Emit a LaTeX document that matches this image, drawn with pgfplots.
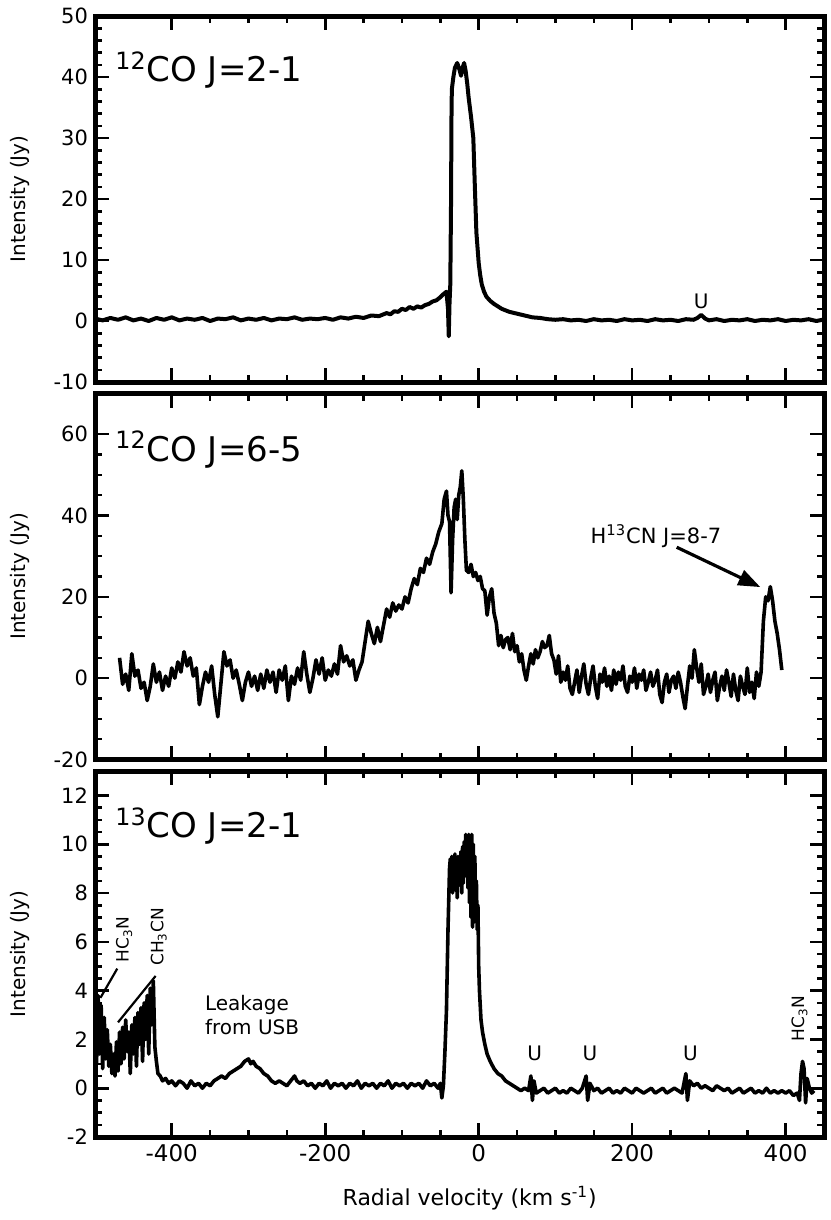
\documentclass[border=0pt]{standalone}
\usepackage{fontspec}
\setmainfont{DejaVu Sans}
\usepackage{pgfplots}
\pgfplotsset{compat=1.18}
\usepgfplotslibrary{groupplots}
\usetikzlibrary{arrows.meta}
\begin{document}
\begin{tikzpicture}
\begin{groupplot}[
  group style={group size=1 by 3, vertical sep=5.75pt, xticklabels at=edge bottom},
  scale only axis, width=364.5pt, height=183pt,
  xmin=-500, xmax=450,
  xtick={-400,-200,0,200,400},
  minor x tick num=3,
  tick align=inside,
  xtick pos=both, ytick pos=both,
  axis line style={line width=2.5pt, line cap=rect},
  every tick/.style={black, line width=1.3pt},
  major tick length=7pt, minor tick length=3.5pt,
  yticklabel style={font=\fontsize{10.5}{12}\selectfont},
  xticklabel style={font=\fontsize{11.5}{13}\selectfont},
  /pgf/number format/assume math mode=true,
  ylabel={Intensity (Jy)},
  ylabel style={at={(axis description cs:-0.103,0.5)}, anchor=center, font=\fontsize{10}{12}\selectfont},
  cycle list={{black, line width=1.8pt, line join=round, no markers}},
]
% ---------------- Panel 1 ----------------
\nextgroupplot[ymin=-10, ymax=50, ytick={-10,0,10,20,30,40,50}, minor y tick num=4]
\addplot[black, line width=2pt, line join=round, no markers] coordinates {
(-500,0.4) (-490,0.1) (-480,0.5) (-470,0.2) (-460,0.6) (-450,0.1) (-440,0.4) (-430,0.0) (-420,0.5) (-410,0.2)
(-400,0.6) (-390,0.1) (-380,0.4) (-370,0.2) (-360,0.5) (-350,0.0) (-340,0.4) (-330,0.3) (-320,0.6) (-310,0.1)
(-300,0.4) (-290,0.2) (-280,0.5) (-270,0.1) (-260,0.4) (-250,0.3) (-240,0.6) (-230,0.2) (-220,0.4) (-210,0.3)
(-200,0.5) (-190,0.2) (-180,0.6) (-170,0.4) (-160,0.7) (-150,0.5) (-140,0.9) (-130,0.8) (-120,1.3) (-115,1.1)
(-110,1.6) (-105,1.5) (-100,2.0) (-95,1.8) (-90,2.3) (-85,2.0) (-80,2.4) (-75,2.2) (-70,2.6) (-65,2.8)
(-60,3.2) (-55,3.4) (-50,3.9) (-46,4.4) (-42,4.8) (-40,2.0) (-39,-2.5) (-38,3.0) (-37,6.0) (-36,20)
(-35.5,33) (-35,38) (-33,40) (-31,41.5) (-28,42.3) (-25,41.2) (-23,40.2) (-21,41.5) (-19,42.3) (-17,41.0)
(-15,39.0) (-13,36.5) (-10,33.5) (-7,30) (-5,22) (-3,14.5) (0,9.5) (2,7.5) (4,6.0) (7,4.8)
(10,4.0) (15,3.3) (20,2.8) (25,2.4) (30,2.0) (40,1.5) (50,1.2) (60,0.9) (70,0.6) (80,0.5)
(90,0.3) (100,0.2) (110,0.3) (120,0.1) (130,0.2) (140,0.0) (150,0.3) (160,0.1) (170,0.2) (180,0.0)
(190,0.3) (200,0.1) (210,0.2) (220,0.0) (230,0.3) (240,0.1) (250,0.2) (260,0.0) (270,0.3) (280,0.2)
(285,0.5) (290,1.0) (295,0.4) (300,0.1) (310,0.3) (320,0.0) (330,0.2) (340,0.1) (350,0.3) (360,0.0)
(370,0.2) (380,0.1) (390,0.3) (400,0.0) (410,0.2) (420,0.1) (430,0.3) (440,0.0) (448,0.2)
};
\node[anchor=base west, inner sep=0, font=\fontsize{17}{20}\selectfont] at (rel axis cs:0.0275,0.82) {\textsuperscript{12}CO J=2-1};
\node[font=\fontsize{10}{12}\selectfont] at (axis cs:290,3.3) {U};
% ---------------- Panel 2 ----------------
\nextgroupplot[ymin=-20, ymax=70, ytick={-20,0,20,40,60}, minor y tick num=3]
\addplot[black, line width=1.8pt, line join=round, no markers] coordinates {
(-468,5.0) (-464,-1.5) (-460,1.0) (-456,-3.0) (-452,6.0) (-448,0.5) (-444,2.0) (-440,-2.5) (-436,-1.0) (-432,-5.5)
(-428,-2.0) (-424,3.5) (-420,-1.0) (-416,1.5) (-412,-3.0) (-408,0.5) (-404,-2.0) (-400,2.5) (-396,0.0) (-392,4.0)
(-388,1.5) (-384,6.5) (-380,3.0) (-376,5.0) (-372,0.5) (-368,2.5) (-364,-6.5) (-360,-2.0) (-356,1.5) (-352,-1.0)
(-348,3.0) (-344,-4.0) (-340,-9.5) (-336,-1.5) (-332,6.5) (-328,3.0) (-324,4.5) (-320,0.0) (-316,2.0) (-312,-1.5)
(-308,-5.5) (-304,-1.0) (-300,1.5) (-296,-2.0) (-292,0.5) (-288,-3.0) (-284,1.0) (-280,-2.5) (-276,2.0) (-272,-1.0)
(-268,1.5) (-264,-3.5) (-260,2.0) (-256,-0.5) (-252,3.0) (-248,-5.5) (-244,0.5) (-240,-1.5) (-236,2.5) (-232,-0.5)
(-228,6.5) (-224,1.0) (-220,-3.5) (-216,0.0) (-212,4.5) (-208,1.0) (-204,5.0) (-200,-0.5) (-196,2.0) (-192,0.5)
(-188,3.5) (-184,1.0) (-180,8.0) (-176,4.0) (-172,5.5) (-168,3.0) (-164,4.5) (-160,-0.5) (-156,2.0) (-152,4.0)
(-148,9.0) (-144,14.0) (-140,11.0) (-136,8.5) (-132,12.5) (-128,9.0) (-124,13.0) (-120,17.0) (-116,15.0) (-112,18.5)
(-108,16.5) (-104,18.0) (-100,17.0) (-96,20.0) (-92,18.5) (-88,22.0) (-84,24.5) (-80,23.0) (-76,27.0) (-72,26.0)
(-68,29.5) (-64,28.0) (-60,31.0) (-56,33.0) (-52,36.0) (-48,38.0) (-45,44.0) (-42,46.0) (-40,40.0) (-38,38.5)
(-36,21.0) (-34,34.0) (-32,42.0) (-30,44.0) (-28,39.0) (-26,45.0) (-24,47.0) (-22,51.0) (-20,44.0) (-18,34.0)
(-16,26.5) (-13,26.0) (-10,28.0) (-7,25.0) (-4,26.0) (-1,24.0) (2,25.0) (5,22.0) (8,21.5) (11,15.5)
(14,20.0) (17,22.0) (20,16.0) (23,13.5) (26,8.0) (29,10.5) (32,7.5) (35,9.5) (38,10.0) (41,7.0)
(44,11.0) (47,6.5) (50,8.0) (53,4.0) (56,6.0) (59,2.0) (62,-0.5) (65,3.0) (68,6.0) (71,3.5)
(74,7.0) (77,5.0) (80,6.5) (83,9.0) (86,7.5) (89,8.0) (92,10.5) (95,6.0) (98,4.5) (101,1.0)
(104,5.5) (107,-1.0) (110,1.5) (113,-0.5) (116,3.0) (119,-2.5) (122,-4.0) (125,-1.0) (128,2.0) (131,-3.5)
(134,0.5) (137,3.5) (140,-1.5) (143,-4.0) (146,0.0) (149,3.0) (152,-2.0) (155,-5.0) (158,1.0) (161,-1.0)
(164,2.5) (167,-2.0) (170,0.5) (173,-3.0) (176,2.0) (179,-1.5) (182,1.5) (185,-0.5) (188,3.0) (191,-2.0)
(194,-3.5) (197,0.5) (200,-1.0) (203,2.5) (206,-2.5) (209,1.0) (212,-0.5) (215,2.0) (218,-3.0) (221,-1.0)
(224,1.5) (227,-2.0) (230,-0.5) (233,2.0) (236,-4.0) (239,-6.0) (242,-1.0) (245,1.0) (248,-3.5) (251,-0.5)
(254,0.5) (257,-2.5) (260,1.5) (263,-1.0) (266,-4.5) (269,-7.5) (272,-2.0) (275,3.0) (278,0.0) (281,7.0)
(284,2.5) (287,-1.0) (290,3.5) (293,-4.0) (296,-2.0) (299,1.0) (302,-3.5) (305,-0.5) (308,1.5) (311,-5.5)
(314,-2.0) (317,0.5) (320,-3.0) (323,2.0) (326,-1.0) (329,-4.5) (332,1.0) (335,-3.0) (338,-5.5) (341,0.5)
(344,-2.0) (347,-4.0) (350,2.5) (353,-3.5) (356,-1.0) (359,-5.0) (362,1.5) (365,-2.0) (368,1.5) (371,14.0)
(374,20.0) (377,19.0) (380,22.5) (383,19.0) (386,14.0) (389,11.0) (392,7.0) (395,2.0)
};
\node[anchor=base west, inner sep=0, font=\fontsize{17}{20}\selectfont] at (rel axis cs:0.0275,0.815) {\textsuperscript{12}CO J=6-5};
\node[font=\fontsize{10.5}{12}\selectfont] at (axis cs:231,35) {H\textsuperscript{13}CN J=8-7};
\draw[line width=1.6pt, -{Triangle[length=11pt,width=8pt]}] (axis cs:258,32.2) -- (axis cs:367,22.4);
% ---------------- Panel 3 ----------------
\nextgroupplot[ymin=-2, ymax=13, ytick={-2,0,2,4,6,8,10,12}, minor y tick num=3,
  xlabel={Radial velocity (km s\textsuperscript{-1})},
  xlabel style={at={(axis description cs:0.514,0)}, anchor=center, yshift=-30.5pt, font=\fontsize{11}{13}\selectfont}]
\addplot[black, line width=1.8pt, line join=round, no markers] coordinates {
(-500,2.6) (-498,1.0) (-496,3.8) (-494,1.4) (-492,3.4) (-490,0.8) (-488,2.9) (-486,1.2) (-484,2.4) (-482,0.9)
(-480,1.8) (-478,0.6) (-476,1.4) (-474,0.5) (-472,1.9) (-470,0.7) (-468,2.3) (-466,1.0) (-464,2.5) (-462,1.2)
(-460,2.8) (-458,1.5) (-456,2.3) (-454,0.6) (-452,2.6) (-450,1.4) (-448,2.9) (-446,0.9) (-444,3.1) (-442,1.8)
(-440,3.3) (-438,1.1) (-436,3.5) (-434,2.0) (-432,3.8) (-430,1.4) (-428,4.1) (-426,2.6) (-424,4.4) (-422,1.7)
(-420,1.1) (-418,0.6) (-415,0.5) (-412,0.3) (-408,0.4) (-404,0.2) (-400,0.3) (-395,0.1) (-390,0.3) (-385,0.2)
(-380,0.0) (-375,0.3) (-370,0.1) (-365,0.2) (-360,0.0) (-355,0.2) (-350,0.1) (-345,0.3) (-340,0.4) (-335,0.5)
(-330,0.4) (-325,0.6) (-320,0.7) (-315,0.8) (-310,0.9) (-305,1.1) (-300,1.2) (-297,1.0) (-294,1.1) (-290,0.9)
(-285,0.8) (-280,0.6) (-275,0.5) (-270,0.3) (-265,0.2) (-260,0.3) (-255,0.2) (-250,0.1) (-245,0.3) (-240,0.5)
(-237,0.3) (-233,0.2) (-228,0.3) (-223,0.1) (-218,0.2) (-213,0.0) (-208,0.2) (-203,0.1) (-198,0.3) (-193,0.0)
(-188,0.2) (-183,0.1) (-178,0.2) (-173,0.0) (-168,0.2) (-163,0.1) (-158,0.3) (-153,0.0) (-148,0.2) (-143,0.1)
(-138,0.2) (-133,0.0) (-128,0.2) (-123,0.1) (-118,0.3) (-113,0.0) (-108,0.2) (-103,0.1) (-98,0.2) (-93,0.0)
(-88,0.2) (-83,0.1) (-78,0.2) (-73,0.0) (-68,0.3) (-63,0.1) (-58,0.2) (-53,0.0) (-50,0.2) (-48,-0.4)
(-46,0.1) (-44,1.5) (-42,3.2) (-40,6.5) (-38,9.0) (-37,9.4) (-36,8.2) (-35,9.5) (-34,8.0) (-33,9.3)
(-32,8.4) (-31,9.6) (-30,8.1) (-29,9.2) (-28,7.8) (-27,9.5) (-26,8.3) (-25,9.1) (-24,8.6) (-23,9.7)
(-22,8.0) (-21,9.9) (-20,8.4) (-19,10.1) (-18,8.7) (-17,10.4) (-16,9.0) (-15,10.3) (-14,8.2) (-13,10.4)
(-12,7.6) (-11,10.2) (-10,7.0) (-9,10.4) (-8,6.6) (-7,10.0) (-6,6.8) (-5,9.5) (-4,7.2) (-3,8.5)
(-2,6.5) (-1,7.5) (0,5.0) (1,4.0) (3,2.8) (5,2.3) (8,1.8) (11,1.4) (15,1.1) (20,0.8)
(25,0.6) (30,0.5) (35,0.3) (40,0.2) (45,0.1) (50,0.0) (55,-0.1) (60,0.0) (65,-0.1) (68,0.5)
(70,-0.5) (72,0.3) (75,-0.2) (80,-0.1) (85,0.0) (90,-0.2) (95,-0.1) (100,0.0) (105,-0.2) (110,-0.1)
(115,-0.2) (120,0.0) (125,-0.1) (130,-0.2) (135,0.0) (140,0.5) (142,-0.5) (145,0.2) (150,-0.1) (155,0.0)
(160,-0.2) (165,-0.1) (170,0.0) (175,-0.2) (180,-0.1) (185,-0.2) (190,0.0) (195,-0.1) (200,-0.2) (205,0.0)
(210,-0.1) (215,-0.2) (220,-0.1) (225,0.0) (230,-0.2) (235,-0.1) (240,0.0) (245,-0.2) (250,-0.1) (255,0.0)
(260,-0.1) (265,-0.2) (270,0.6) (272,-0.5) (275,0.3) (280,0.1) (285,0.2) (290,0.0) (295,0.1) (300,0.0)
(305,-0.1) (310,0.1) (315,0.0) (320,-0.1) (325,0.0) (330,-0.2) (335,-0.1) (340,0.0) (345,-0.2) (350,-0.1)
(355,0.0) (360,-0.2) (365,-0.1) (370,-0.2) (375,0.0) (380,-0.2) (385,-0.1) (390,-0.2) (395,-0.1) (400,-0.2)
(405,-0.1) (410,-0.3) (415,-0.2) (418,-0.5) (420,0.6) (422,1.1) (424,0.8) (426,-0.6) (428,0.4) (431,0.0)
(434,-0.2) (437,-0.1)
};
\node[anchor=base west, inner sep=0, font=\fontsize{17}{20}\selectfont] at (rel axis cs:0.0275,0.817) {\textsuperscript{13}CO J=2-1};
\node[align=left, anchor=west, inner sep=0, font=\fontsize{10}{12}\selectfont] at (axis cs:-357,3.0) {Leakage\\from USB};
\node[font=\fontsize{10}{12}\selectfont] at (axis cs:73,1.42) {U};
\node[font=\fontsize{10}{12}\selectfont] at (axis cs:145,1.42) {U};
\node[font=\fontsize{10}{12}\selectfont] at (axis cs:276,1.42) {U};
\node[rotate=90, inner sep=0, font=\fontsize{8.5}{10}\selectfont] at (axis cs:-462,6.1) {HC\textsubscript{3}N};
\node[rotate=90, inner sep=0, font=\fontsize{8.5}{10}\selectfont] at (axis cs:-417,6.2) {CH\textsubscript{3}CN};
\node[rotate=90, inner sep=0, font=\fontsize{8.5}{10}\selectfont] at (axis cs:418,2.85) {HC\textsubscript{3}N};
\draw[line width=1.1pt] (axis cs:-471,4.9) -- (axis cs:-493,3.7);
\draw[line width=1.1pt] (axis cs:-421,4.6) -- (axis cs:-470,2.7);
\end{groupplot}
\pgfresetboundingbox
\path[use as bounding box] ([xshift=-47.5pt,yshift=8pt]group c1r1.north west) rectangle ([xshift=3pt,yshift=-41.5pt]group c1r3.south east);
\end{tikzpicture}
\end{document}
